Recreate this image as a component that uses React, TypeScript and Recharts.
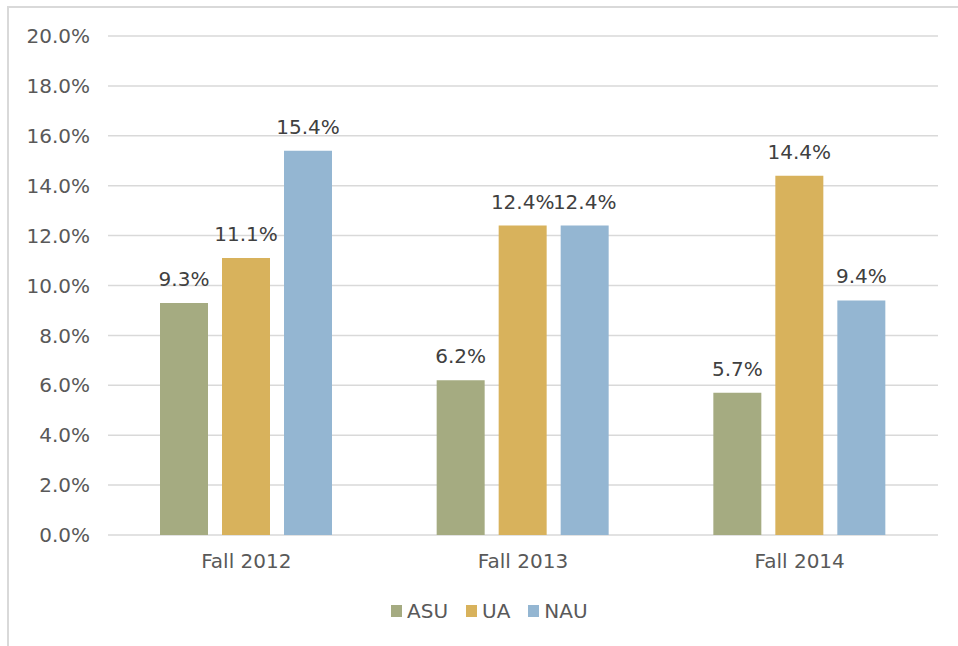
import React from "react";
import { BarChart, Bar, XAxis, YAxis, CartesianGrid, Legend, LabelList } from "recharts";

const categories = ["Fall 2012", "Fall 2013", "Fall 2014"];
const asu = [9.3, 6.2, 5.7];
const ua = [11.1, 12.4, 14.4];
const nau = [15.4, 12.4, 9.4];
const yTicks = [0, 2, 4, 6, 8, 10, 12, 14, 16, 18, 20];

const seriesDefs = [
  { key: "ASU", color: "#A5AB81" },
  { key: "UA", color: "#D8B25C" },
  { key: "NAU", color: "#94B6D2" },
];

const data = categories.map((c, i) => ({ name: c, ASU: asu[i], UA: ua[i], NAU: nau[i] }));

const FONT = "'DejaVu Sans', sans-serif";
const fmt = (v: number) => `${v.toFixed(1)}%`;

const LegendContent = () => (
  <div style={{ display: "flex", alignItems: "center", fontFamily: FONT, fontSize: 20, color: "#595959", whiteSpace: "nowrap" }}>
    {seriesDefs.map((s, i) => (
      <div key={s.key} style={{ display: "flex", alignItems: "center", marginRight: i < seriesDefs.length - 1 ? 18 : 0 }}>
        <div style={{ width: 11, height: 12, background: s.color, marginRight: 5 }} />
        <span>{s.key}</span>
      </div>
    ))}
  </div>
);

export default function App() {
  return (
    <div style={{ position: "absolute", left: 0, top: 0, width: 958, height: 646, background: "#fff", overflow: "hidden" }}>
      <div style={{ position: "absolute", left: 7, top: 6, width: 951, height: 1.5, background: "#D9D9D9" }} />
      <div style={{ position: "absolute", left: 7, top: 6, width: 1.5, height: 640, background: "#D9D9D9" }} />
      <BarChart
        width={958}
        height={646}
        data={data}
        margin={{ top: 36, right: 20, left: 8, bottom: 81 }}
        barSize={48}
        barGap={14}
      >
        <CartesianGrid vertical={false} stroke="#D9D9D9" strokeWidth={1.5} />
        <XAxis
          dataKey="name"
          height={30}
          axisLine={false}
          tickLine={false}
          tickSize={0}
          tickMargin={19}
          tick={{ fill: "#595959", fontSize: 20, fontFamily: FONT }}
        />
        <YAxis
          width={100}
          domain={[0, 20]}
          ticks={yTicks}
          interval={0}
          axisLine={false}
          tickLine={false}
          tickSize={0}
          tickMargin={18}
          tickFormatter={fmt}
          tick={{ fill: "#595959", fontSize: 20, fontFamily: FONT }}
        />
        <Legend
          verticalAlign="middle"
          layout="horizontal"
          content={<LegendContent />}
          wrapperStyle={{ top: 599, left: 391, width: "auto", height: 24 }}
        />
        {seriesDefs.map((s) => (
          <Bar key={s.key} dataKey={s.key} fill={s.color} isAnimationActive={false}>
            <LabelList
              dataKey={s.key}
              position="top"
              offset={17}
              formatter={(v: any) => fmt(Number(v))}
              style={{ fill: "#404040", fontSize: 20, fontFamily: FONT }}
            />
          </Bar>
        ))}
      </BarChart>
    </div>
  );
}
